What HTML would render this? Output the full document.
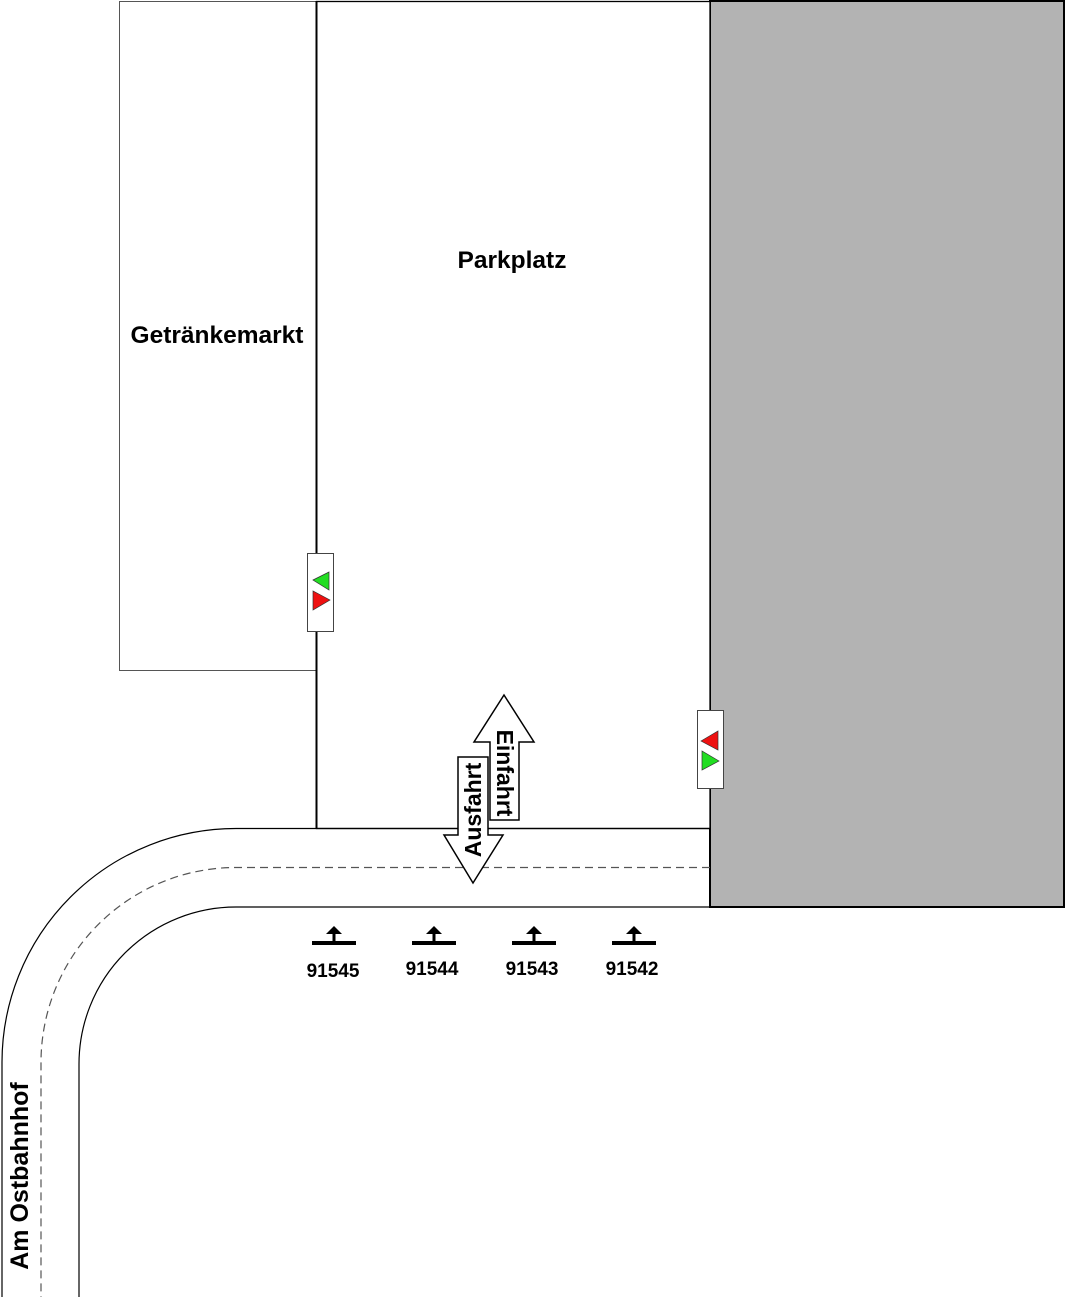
<!DOCTYPE html>
<html><head><meta charset="utf-8"><style>
html,body{margin:0;padding:0;background:#fff}
svg{display:block}
text{font-family:"Liberation Sans",Arial,sans-serif;font-weight:bold;fill:#000}
</style></head><body>
<svg width="1066" height="1297" viewBox="0 0 1066 1297" xmlns="http://www.w3.org/2000/svg">
<rect x="710" y="1" width="354" height="906" fill="#b3b3b3" stroke="#000" stroke-width="2"/>
<rect x="119.5" y="1.5" width="197" height="669" fill="#fff" stroke="#555" stroke-width="1"/>
<rect x="316.5" y="1.5" width="393.5" height="827" fill="#fff" stroke="#000" stroke-width="1.3"/>
<line x1="316.5" y1="1" x2="316.5" y2="828" stroke="#000" stroke-width="2"/>
<text x="512" y="268" font-size="24.5" text-anchor="middle">Parkplatz</text>
<text x="217" y="343" font-size="24.5" text-anchor="middle">Getränkemarkt</text>
<!-- roads -->
<path d="M710 828.5 H236 A234 234 0 0 0 2 1062 V1297" fill="none" stroke="#000" stroke-width="1.2"/>
<path d="M710 867.5 H236 A195 195 0 0 0 41 1062 V1297" fill="none" stroke="#555" stroke-width="1.2" stroke-dasharray="8,5"/>
<path d="M710 907 H236 A157 157 0 0 0 79 1064 V1297" fill="none" stroke="#000" stroke-width="1.2"/>
<!-- signals -->
<rect x="307.5" y="553.5" width="26" height="78" fill="#fff" stroke="#444" stroke-width="1"/>
<polygon points="313,580 329,572 329,590" fill="#22dd22" stroke="#333" stroke-width="0.7"/>
<polygon points="330,600 313,591 313,610" fill="#ee1111" stroke="#333" stroke-width="0.7"/>
<rect x="697.5" y="710.5" width="26" height="78" fill="#fff" stroke="#444" stroke-width="1"/>
<polygon points="701,741 718,731 718,750" fill="#ee1111" stroke="#333" stroke-width="0.7"/>
<polygon points="719,761 702,751 702,770" fill="#22dd22" stroke="#333" stroke-width="0.7"/>
<!-- arrows -->
<polygon points="504,695 534,742 519,742 519,820 490,820 490,742 474,742" fill="#fff" stroke="#000" stroke-width="1.5"/>
<polygon points="458,757 488,757 488,835 503,835 473,883 444,835 458,835" fill="#fff" stroke="#000" stroke-width="1.5"/>
<text transform="translate(505,773) rotate(90)" font-size="23" text-anchor="middle" dominant-baseline="central">Einfahrt</text>
<text transform="translate(473,810) rotate(-90)" font-size="23" text-anchor="middle" dominant-baseline="central">Ausfahrt</text>
<!-- bus stops -->
<g fill="#000">
<g transform="translate(334,0)"><rect x="-22" y="941" width="44" height="4"/><rect x="-1.5" y="932" width="3" height="10"/><polygon points="-8,934 8,934 0,926"/></g>
<g transform="translate(434,0)"><rect x="-22" y="941" width="44" height="4"/><rect x="-1.5" y="932" width="3" height="10"/><polygon points="-8,934 8,934 0,926"/></g>
<g transform="translate(534,0)"><rect x="-22" y="941" width="44" height="4"/><rect x="-1.5" y="932" width="3" height="10"/><polygon points="-8,934 8,934 0,926"/></g>
<g transform="translate(634,0)"><rect x="-22" y="941" width="44" height="4"/><rect x="-1.5" y="932" width="3" height="10"/><polygon points="-8,934 8,934 0,926"/></g>
</g>
<text x="333" y="977" font-size="19" text-anchor="middle">91545</text>
<text x="432" y="975" font-size="19" text-anchor="middle">91544</text>
<text x="532" y="975" font-size="19" text-anchor="middle">91543</text>
<text x="632" y="975" font-size="19" text-anchor="middle">91542</text>
<text transform="translate(20,1176) rotate(-90)" font-size="25" text-anchor="middle" dominant-baseline="central">Am Ostbahnhof</text>
</svg>
</body></html>
